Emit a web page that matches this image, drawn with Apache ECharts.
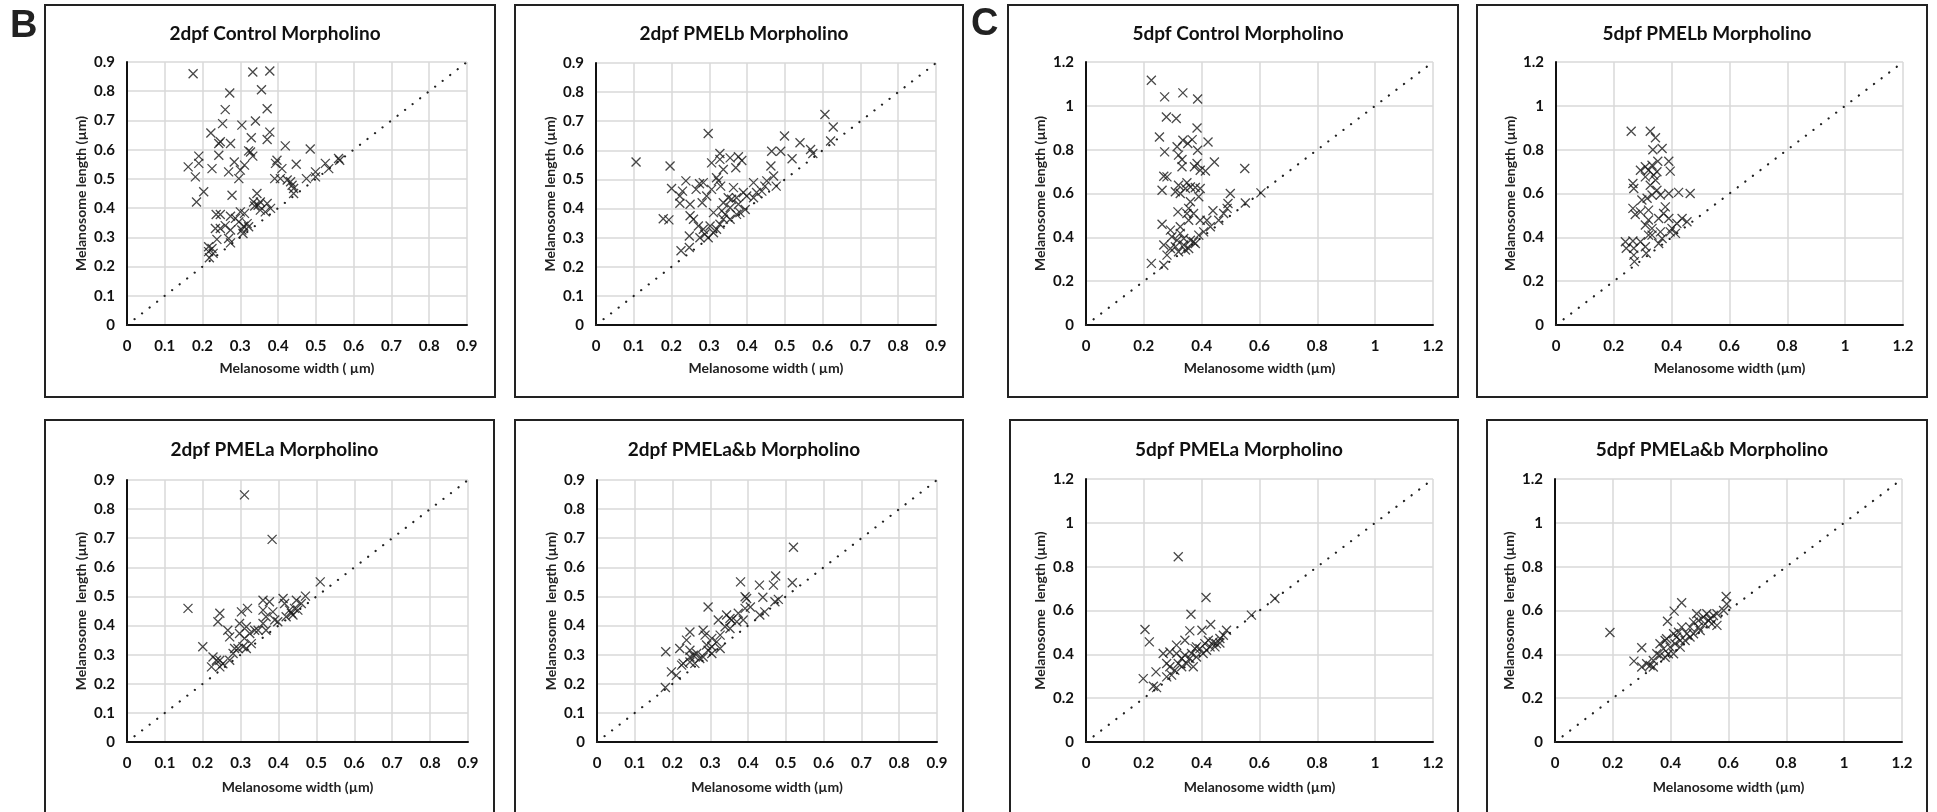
<!DOCTYPE html>
<html>
<head>
<meta charset="utf-8">
<script src="https://cdn.jsdelivr.net/npm/echarts@6/dist/echarts.min.js"></script>
<style>
  html, body { margin: 0; padding: 0; background: #fff; }
  #chart { width: 1937px; height: 812px; }
</style>
</head>
<body>
<div id="chart"></div>
<script>
// width (um), length (um)
var ctl2 = [[0.175,0.86],[0.333,0.866],[0.378,0.869],[0.272,0.794],[0.356,0.805],[0.26,0.737],[0.371,0.74],
  [0.253,0.689],[0.34,0.698],[0.304,0.684],[0.222,0.657],[0.378,0.66],[0.329,0.641],[0.371,0.635],[0.247,0.627],
  [0.243,0.621],[0.274,0.621],[0.419,0.613],[0.485,0.602],[0.322,0.596],[0.327,0.592],[0.243,0.581],[0.333,0.578],
  [0.19,0.578],[0.19,0.553],[0.162,0.541],[0.284,0.558],[0.311,0.547],[0.397,0.564],[0.393,0.553],[0.225,0.535],
  [0.3,0.53],[0.269,0.524],[0.448,0.55],[0.525,0.553],[0.534,0.535],[0.56,0.57],[0.563,0.564],[0.181,0.507],
  [0.296,0.501],[0.391,0.501],[0.406,0.501],[0.475,0.501],[0.499,0.507],[0.499,0.524],[0.424,0.496],[0.433,0.49],
  [0.437,0.478],[0.203,0.456],[0.441,0.467],[0.441,0.45],[0.278,0.444],[0.184,0.421],[0.344,0.45],[0.335,0.421],
  [0.353,0.421],[0.338,0.407],[0.347,0.41],[0.371,0.416],[0.38,0.399],[0.366,0.387],[0.353,0.393],[0.236,0.378],
  [0.247,0.378],[0.274,0.372],[0.3,0.387],[0.311,0.382],[0.287,0.365],[0.296,0.353],[0.318,0.347],[0.309,0.338],
  [0.322,0.336],[0.26,0.34],[0.274,0.325],[0.234,0.33],[0.247,0.33],[0.304,0.325],[0.307,0.313],[0.238,0.293],
  [0.269,0.296],[0.274,0.281],[0.216,0.268],[0.225,0.262],[0.216,0.251],[0.228,0.245],[0.218,0.23],[0.41,0.535]];

var pmelb2 = [[0.106,0.56],[0.196,0.546],[0.297,0.658],[0.606,0.723],[0.628,0.68],[0.621,0.632],[0.499,0.649],
  [0.54,0.626],[0.568,0.603],[0.574,0.589],[0.519,0.571],[0.465,0.597],[0.489,0.597],[0.463,0.546],[0.47,0.512],
  [0.477,0.477],[0.178,0.365],[0.193,0.361],[0.2,0.469],[0.238,0.495],[0.222,0.443],[0.229,0.46],[0.222,0.418],
  [0.249,0.415],[0.249,0.375],[0.258,0.363],[0.247,0.306],[0.225,0.255],[0.247,0.266],[0.265,0.466],[0.274,0.485],
  [0.284,0.489],[0.281,0.42],[0.293,0.443],[0.328,0.589],[0.328,0.569],[0.337,0.534],[0.355,0.574],[0.377,0.578],
  [0.386,0.565],[0.37,0.54],[0.319,0.506],[0.324,0.495],[0.33,0.477],[0.306,0.466],[0.364,0.472],[0.39,0.455],
  [0.337,0.42],[0.35,0.437],[0.359,0.432],[0.372,0.437],[0.377,0.415],[0.355,0.403],[0.333,0.392],[0.342,0.38],
  [0.381,0.386],[0.372,0.38],[0.355,0.363],[0.417,0.489],[0.425,0.455],[0.417,0.437],[0.452,0.495],[0.447,0.477],
  [0.439,0.46],[0.271,0.34],[0.284,0.329],[0.302,0.34],[0.319,0.329],[0.288,0.312],[0.297,0.3],[0.275,0.3],
  [0.311,0.317],[0.328,0.346],[0.337,0.363],[0.395,0.397],[0.399,0.443],[0.306,0.557],[0.311,0.386]];

var pmela2 = [[0.31,0.849],[0.383,0.696],[0.161,0.459],[0.2,0.327],[0.51,0.55],[0.471,0.501],[0.302,0.447],
  [0.318,0.459],[0.245,0.442],[0.24,0.413],[0.266,0.384],[0.271,0.361],[0.297,0.407],[0.315,0.396],[0.324,0.373],
  [0.297,0.373],[0.31,0.356],[0.337,0.384],[0.328,0.338],[0.359,0.487],[0.376,0.482],[0.359,0.453],[0.367,0.43],
  [0.359,0.407],[0.346,0.384],[0.367,0.384],[0.39,0.419],[0.412,0.493],[0.416,0.476],[0.398,0.413],[0.42,0.43],
  [0.434,0.442],[0.447,0.487],[0.442,0.459],[0.46,0.476],[0.451,0.453],[0.429,0.453],[0.227,0.292],[0.236,0.281],
  [0.245,0.258],[0.223,0.258],[0.253,0.269],[0.271,0.281],[0.28,0.304],[0.293,0.321],[0.315,0.321],[0.245,0.281],
  [0.284,0.321],[0.306,0.327],[0.385,0.447],[0.438,0.436]];

var pmelab2 = [[0.52,0.669],[0.517,0.547],[0.473,0.57],[0.467,0.539],[0.43,0.539],[0.38,0.55],[0.439,0.497],
  [0.396,0.493],[0.392,0.499],[0.471,0.482],[0.48,0.49],[0.294,0.464],[0.182,0.31],[0.181,0.187],[0.197,0.241],
  [0.21,0.229],[0.219,0.321],[0.237,0.35],[0.246,0.378],[0.246,0.315],[0.228,0.27],[0.246,0.275],[0.281,0.384],
  [0.286,0.367],[0.304,0.356],[0.321,0.419],[0.343,0.436],[0.352,0.424],[0.374,0.442],[0.37,0.413],[0.392,0.459],
  [0.406,0.464],[0.431,0.436],[0.444,0.447],[0.352,0.39],[0.339,0.396],[0.326,0.367],[0.304,0.327],[0.294,0.315],
  [0.264,0.304],[0.272,0.287],[0.259,0.27],[0.281,0.292],[0.255,0.298],[0.29,0.333],[0.317,0.344],[0.326,0.321],
  [0.304,0.304],[0.356,0.419],[0.387,0.419],[0.246,0.292],[0.224,0.264]];

var ctl5 = [[0.226,1.117],[0.272,1.041],[0.335,1.059],[0.386,1.031],[0.278,0.949],[0.312,0.942],[0.384,0.899],
  [0.254,0.858],[0.335,0.843],[0.367,0.846],[0.422,0.835],[0.315,0.813],[0.352,0.828],[0.272,0.79],[0.386,0.797],
  [0.32,0.775],[0.332,0.755],[0.444,0.744],[0.384,0.737],[0.375,0.722],[0.332,0.722],[0.395,0.706],[0.413,0.703],
  [0.549,0.714],[0.269,0.679],[0.28,0.676],[0.32,0.638],[0.349,0.649],[0.361,0.63],[0.378,0.627],[0.395,0.623],
  [0.263,0.615],[0.309,0.608],[0.326,0.6],[0.344,0.623],[0.39,0.585],[0.499,0.6],[0.605,0.603],[0.551,0.557],
  [0.361,0.562],[0.355,0.532],[0.318,0.516],[0.349,0.509],[0.372,0.509],[0.439,0.521],[0.491,0.554],[0.488,0.532],
  [0.263,0.46],[0.355,0.478],[0.395,0.478],[0.418,0.478],[0.43,0.448],[0.459,0.478],[0.476,0.509],[0.292,0.433],
  [0.326,0.448],[0.326,0.418],[0.315,0.387],[0.338,0.395],[0.361,0.387],[0.39,0.41],[0.407,0.425],[0.269,0.365],
  [0.292,0.349],[0.309,0.357],[0.338,0.365],[0.355,0.349],[0.378,0.372],[0.32,0.334],[0.28,0.319],[0.226,0.281],
  [0.269,0.273],[0.297,0.403],[0.344,0.342],[0.372,0.38]];

var pmelb5 = [[0.26,0.884],[0.326,0.884],[0.344,0.854],[0.335,0.8],[0.367,0.805],[0.39,0.747],[0.395,0.702],
  [0.352,0.747],[0.332,0.729],[0.309,0.722],[0.292,0.706],[0.32,0.706],[0.349,0.699],[0.338,0.684],[0.309,0.676],
  [0.344,0.661],[0.266,0.646],[0.326,0.638],[0.349,0.615],[0.269,0.623],[0.361,0.593],[0.39,0.6],[0.424,0.605],
  [0.464,0.6],[0.332,0.593],[0.297,0.57],[0.315,0.578],[0.378,0.539],[0.266,0.532],[0.292,0.516],[0.32,0.524],
  [0.274,0.504],[0.372,0.509],[0.32,0.479],[0.355,0.486],[0.39,0.486],[0.436,0.486],[0.418,0.463],[0.453,0.471],
  [0.332,0.441],[0.361,0.425],[0.395,0.425],[0.413,0.418],[0.332,0.41],[0.367,0.395],[0.355,0.372],[0.24,0.38],
  [0.243,0.35],[0.266,0.383],[0.292,0.38],[0.309,0.357],[0.269,0.35],[0.269,0.319],[0.271,0.289],[0.312,0.327],
  [0.32,0.41],[0.309,0.456],[0.401,0.441]];

var pmela5 = [[0.319,0.845],[0.415,0.659],[0.363,0.583],[0.431,0.536],[0.359,0.507],[0.401,0.51],[0.204,0.513],
  [0.219,0.457],[0.198,0.289],[0.242,0.32],[0.233,0.254],[0.244,0.248],[0.572,0.579],[0.653,0.655],[0.486,0.51],
  [0.342,0.464],[0.29,0.411],[0.279,0.358],[0.296,0.305],[0.313,0.404],[0.331,0.381],[0.348,0.358],[0.365,0.404],
  [0.382,0.388],[0.394,0.426],[0.377,0.426],[0.411,0.449],[0.429,0.434],[0.44,0.457],[0.463,0.472],[0.475,0.487],
  [0.405,0.404],[0.359,0.381],[0.319,0.358],[0.307,0.327],[0.331,0.343],[0.371,0.343],[0.417,0.419],[0.451,0.449],
  [0.382,0.434],[0.29,0.343],[0.279,0.297],[0.313,0.442],[0.342,0.396],[0.446,0.434],[0.423,0.464],[0.463,0.452],
  [0.267,0.404]];

var pmelab5 = [[0.19,0.5],[0.592,0.664],[0.594,0.63],[0.583,0.6],[0.438,0.635],[0.412,0.597],[0.389,0.551],
  [0.3,0.43],[0.273,0.369],[0.3,0.342],[0.317,0.357],[0.329,0.349],[0.34,0.372],[0.363,0.395],[0.352,0.403],
  [0.375,0.425],[0.363,0.448],[0.386,0.471],[0.398,0.433],[0.415,0.448],[0.41,0.494],[0.427,0.501],[0.433,0.463],
  [0.456,0.494],[0.467,0.524],[0.479,0.547],[0.49,0.585],[0.496,0.554],[0.513,0.57],[0.525,0.585],[0.537,0.562],
  [0.548,0.577],[0.56,0.532],[0.542,0.539],[0.519,0.539],[0.502,0.509],[0.479,0.494],[0.45,0.463],[0.433,0.433],
  [0.392,0.403],[0.381,0.387],[0.34,0.342],[0.41,0.403],[0.467,0.479],[0.421,0.479],[0.381,0.463],[0.438,0.524],
  [0.496,0.524],[0.531,0.554],[0.56,0.585]];

var titles = ['2dpf Control Morpholino', '2dpf PMELb Morpholino', '5dpf Control Morpholino', '5dpf PMELb Morpholino',
  '2dpf PMELa Morpholino', '2dpf PMELa&b Morpholino', '5dpf PMELa Morpholino', '5dpf PMELa&b Morpholino'];
var xNames = ['Melanosome width ( \u00b5m)', 'Melanosome width ( \u00b5m)', 'Melanosome width (\u00b5m)', 'Melanosome width (\u00b5m)',
  'Melanosome width (\u00b5m)', 'Melanosome width (\u00b5m)', 'Melanosome width (\u00b5m)', 'Melanosome width (\u00b5m)'];
var yNames = ['Melanosome length (\u00b5m)', 'Melanosome length (\u00b5m)', 'Melanosome length (\u00b5m)', 'Melanosome length (\u00b5m)',
  'Melanosome  length (\u00b5m)', 'Melanosome  length (\u00b5m)', 'Melanosome  length (\u00b5m)', 'Melanosome  length (\u00b5m)'];
var axisMax = [0.9, 0.9, 1.2, 1.2, 0.9, 0.9, 1.2, 1.2];
var axisStep = [0.1, 0.1, 0.2, 0.2, 0.1, 0.1, 0.2, 0.2];
var panelData = [ctl2, pmelb2, ctl5, pmelb5, pmela2, pmelab2, pmela5, pmelab5];

// layout in px: plot area and surrounding frame
var plots = [
  [127, 62, 340, 263], [596, 63, 340, 262], [1086, 62, 347, 263], [1556, 62, 347, 263],
  [127, 480, 341, 262], [597, 480, 340, 262], [1086, 479, 347, 263], [1555, 479, 347, 263]
];
var frames = [
  [45, 5, 450, 392], [515, 5, 448, 392], [1008, 5, 450, 392], [1477, 5, 450, 392],
  [45, 420, 449, 400], [515, 420, 448, 400], [1010, 420, 448, 400], [1487, 420, 440, 400]
];

var font = 'Lato, "Open Sans", sans-serif';
var cross = 'path://M0,0L10,10M10,0L0,10';

var grids = [], xAxes = [], yAxes = [], titleList = [], series = [], graphics = [];

for (var i = 0; i < 8; i++) {
  var p = plots[i], f = frames[i];
  var upper = i < 4;
  grids.push({ left: p[0], top: p[1], width: p[2], height: p[3], containLabel: false });
  titleList.push({
    text: titles[i],
    left: f[0] + f[2] / 2,
    top: upper ? 19 : 435,
    textAlign: 'center',
    textStyle: { fontFamily: font, fontWeight: 'bold', fontSize: 19, color: '#111' }
  });
  var axisCommon = {
    gridIndex: i,
    type: 'value',
    min: 0,
    max: axisMax[i],
    interval: axisStep[i],
    axisTick: { show: false },
    axisLine: { show: true, lineStyle: { color: '#111', width: 2 } },
    splitLine: { show: true, lineStyle: { color: '#d9d9d9', width: 1.5 } },
    axisLabel: { fontFamily: font, fontWeight: 'bold', fontSize: 15, color: '#111' },
    nameLocation: 'middle',
    nameTextStyle: { fontFamily: font, fontWeight: 'bold', fontSize: 14, color: '#222' }
  };
  xAxes.push(Object.assign({}, axisCommon, {
    name: xNames[i],
    nameGap: upper ? 36 : 38,
    axisLabel: Object.assign({}, axisCommon.axisLabel, { margin: 14 })
  }));
  yAxes.push(Object.assign({}, axisCommon, {
    name: yNames[i],
    nameGap: 39,
    axisLabel: Object.assign({}, axisCommon.axisLabel, { margin: 12 })
  }));
  series.push({
    type: 'line',
    xAxisIndex: i,
    yAxisIndex: i,
    data: [[0, 0], [axisMax[i], axisMax[i]]],
    symbol: 'none',
    silent: true,
    z: 1,
    lineStyle: { color: '#222', width: 2.2, type: [0.1, 9.4], cap: 'round' }
  });
  series.push({
    type: 'scatter',
    xAxisIndex: i,
    yAxisIndex: i,
    data: panelData[i],
    symbol: cross,
    symbolSize: 9,
    z: 3,
    itemStyle: { color: 'rgba(0,0,0,0)', borderColor: '#1a1a1a', borderWidth: 1.3 },
    emphasis: { disabled: true }
  });
  graphics.push({
    type: 'rect',
    shape: { x: f[0], y: f[1], width: f[2], height: f[3] },
    style: { fill: 'none', stroke: '#222', lineWidth: 2 },
    silent: true
  });
}

graphics.push({
  type: 'text', left: 10, top: 8,
  style: { text: 'B', font: 'bold 38px "Liberation Sans", Arial, sans-serif', fill: '#222' }
});
graphics.push({
  type: 'text', left: 971, top: 6,
  style: { text: 'C', font: 'bold 38px "Liberation Sans", Arial, sans-serif', fill: '#222' }
});

var chart = echarts.init(document.getElementById('chart'), null, { renderer: 'canvas' });
chart.setOption({
  backgroundColor: '#fff',
  animation: false,
  title: titleList,
  grid: grids,
  xAxis: xAxes,
  yAxis: yAxes,
  series: series,
  graphic: graphics
});
</script>
</body>
</html>
